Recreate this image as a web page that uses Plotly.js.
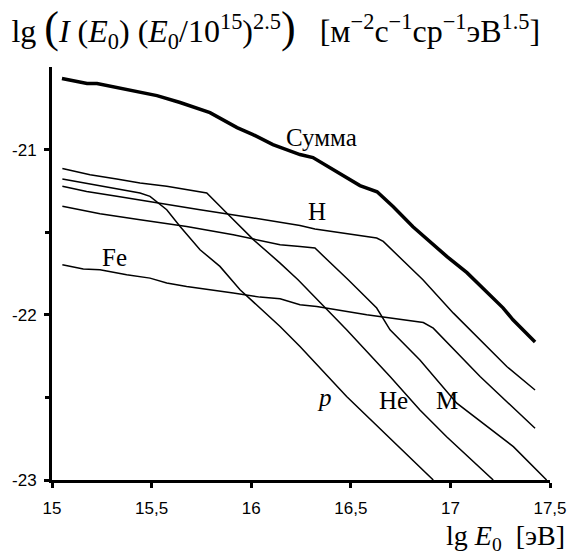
<!DOCTYPE html>
<html>
<head>
<meta charset="utf-8">
<script src="https://cdn.plot.ly/plotly-3.0.1.min.js"></script>
<style>html,body{margin:0;padding:0;background:#fff;}#chart{width:570px;height:554px;}</style>
</head>
<body>
<div id="chart"></div>
<script>
// lg E0 [eV] and lg(I*(E0/1e15)^2.5) for each component
const sumX = [15.05,15.176,15.226,15.326,15.407,15.527,15.643,15.743,15.793,15.929,16.009,16.109,16.245,16.31,16.396,16.481,16.546,16.632,16.712,16.812,16.913,16.983,17.083,17.184,17.264,17.314,17.425];
const sumY = [-20.57,-20.6,-20.6,-20.624,-20.648,-20.673,-20.715,-20.752,-20.776,-20.867,-20.909,-20.97,-21.03,-21.048,-21.109,-21.17,-21.218,-21.255,-21.345,-21.467,-21.576,-21.648,-21.745,-21.867,-21.958,-22.03,-22.164];

const pX = [15.052,15.174,15.291,15.442,15.492,15.576,15.643,15.743,15.843,15.944,16.145,16.245,16.479,16.914];
const pY = [-21.178,-21.206,-21.232,-21.263,-21.283,-21.364,-21.465,-21.606,-21.707,-21.848,-22.071,-22.192,-22.495,-23.0];

const heX = [15.052,15.191,15.325,15.442,15.576,15.676,15.743,15.777,15.877,16.011,16.145,16.235,16.479,16.697,16.847,16.981,17.215];
const heY = [-21.115,-21.152,-21.178,-21.202,-21.222,-21.242,-21.253,-21.263,-21.384,-21.545,-21.687,-21.788,-22.091,-22.374,-22.576,-22.738,-23.0];

const hX = [15.052,15.174,15.325,15.526,15.743,16.011,16.245,16.32,16.63,16.663,16.862,17.015,17.149,17.283,17.425];
const hY = [-21.222,-21.253,-21.283,-21.323,-21.364,-21.414,-21.459,-21.481,-21.535,-21.556,-21.788,-21.99,-22.152,-22.313,-22.455];

const mX = [15.052,15.241,15.442,15.676,15.91,16.145,16.245,16.32,16.487,16.63,16.697,16.847,17.032,17.316,17.483];
const mY = [-21.343,-21.388,-21.424,-21.465,-21.515,-21.576,-21.586,-21.596,-21.788,-21.959,-22.091,-22.273,-22.535,-22.798,-23.0];

const feX = [15.052,15.157,15.241,15.375,15.492,15.576,15.676,15.777,15.91,16.044,16.145,16.245,16.329,16.58,16.697,16.814,16.864,16.914,17.149,17.425];
const feY = [-21.697,-21.723,-21.727,-21.758,-21.778,-21.808,-21.828,-21.844,-21.868,-21.893,-21.903,-21.939,-21.95,-22.0,-22.02,-22.041,-22.047,-22.081,-22.374,-22.687];

const xTickVals = [15,15.5,16,16.5,17,17.5];
const xTickText = ['15','15,5','16','16,5','17','17,5'];
const yTickVals = [-23,-22,-21];
const yTickText = ['-23','-22','-21'];
const yMinorVals = [-22.5,-21.5];

const labelText = ['Сумма','H','Fe','<i>p</i>','He','M'];
const labelX = [16.355,16.33,15.316,16.37,16.712,16.983];
const labelY = [-20.927,-21.376,-21.655,-22.50,-22.52,-22.52];

const thin = {color:'#000', width:1.5};
const traces = [
  {x:sumX, y:sumY, mode:'lines', line:{color:'#000', width:3.5}, name:'Сумма'},
  {x:pX, y:pY, mode:'lines', line:thin, name:'p'},
  {x:heX, y:heY, mode:'lines', line:thin, name:'He'},
  {x:hX, y:hY, mode:'lines', line:thin, name:'H'},
  {x:mX, y:mY, mode:'lines', line:thin, name:'M'},
  {x:feX, y:feY, mode:'lines', line:thin, name:'Fe'}
];

const serif = 'Liberation Serif, Times New Roman, serif';
const annotations = labelText.map((t,i)=>({
  x:labelX[i], y:labelY[i], xref:'x', yref:'y', text:t, showarrow:false,
  font:{family:serif, size:25, color:'#000'}, xanchor:'center', yanchor:'middle'
}));
annotations.push({
  xref:'paper', yref:'paper', x:1.035, y:-0.14, xanchor:'right', yanchor:'middle',
  text:'lg <i>E</i><sub>0</sub>\u00a0\u00a0[эВ]', showarrow:false,
  font:{family:serif, size:28, color:'#000'}
});

const layout = {
  width:570, height:554,
  margin:{l:52, r:20, t:67, b:74},
  paper_bgcolor:'#fff', plot_bgcolor:'#fff',
  showlegend:false,
  title:{
    text:'lg\u00a0<span style="font-size:44px">(</span><i>I</i>\u00a0(<i>E</i><sub>0</sub>)\u00a0(<i>E</i><sub>0</sub>/10<sup>15</sup>)<sup>2.5</sup><span style="font-size:44px">)</span>\u00a0\u00a0\u00a0[м<sup>−2</sup>с<sup>−1</sup>ср<sup>−1</sup>эВ<sup>1.5</sup>]',
    x:0.02, xref:'container', xanchor:'left',
    y:0.944, yref:'container', yanchor:'middle',
    font:{family:serif, size:32, color:'#000'}
  },
  xaxis:{
    range:[15,17.5], showline:true, linewidth:3, linecolor:'#000',
    ticks:'outside', ticklen:5, tickwidth:3, tickcolor:'#000',
    tickvals:xTickVals, ticktext:xTickText, ticklabelstandoff:6,
    tickfont:{family:'Liberation Sans, Arial, sans-serif', size:17, color:'#000'},
    showgrid:false, zeroline:false
  },
  yaxis:{
    range:[-23,-20.5], showline:true, linewidth:3, linecolor:'#000',
    ticks:'outside', ticklen:5, tickwidth:3, tickcolor:'#000',
    tickvals:yTickVals, ticktext:yTickText, ticklabelstandoff:4,
    tickfont:{family:'Liberation Sans, Arial, sans-serif', size:17, color:'#000'},
    minor:{tickvals:yMinorVals, ticks:'outside', ticklen:4, tickwidth:3, tickcolor:'#000', showgrid:false},
    showgrid:false, zeroline:false
  },
  annotations:annotations
};

Plotly.newPlot('chart', traces, layout, {displayModeBar:false, staticPlot:true});
</script>
</body>
</html>
